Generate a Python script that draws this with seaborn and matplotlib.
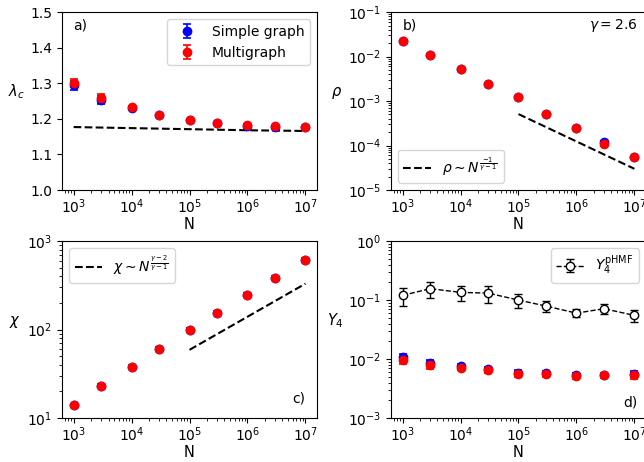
import numpy as np
import pandas as pd
import matplotlib
matplotlib.use("Agg")
import matplotlib.pyplot as plt
from matplotlib.ticker import LogLocator, NullFormatter
import seaborn as sns

# ---- data -------------------------------------------------------------
N = [1e3, 3e3, 1e4, 3e4, 1e5, 3e5, 1e6, 3e6, 1e7]

# a) critical point
lam_simple = [1.294, 1.254, 1.231, 1.210, 1.197, 1.188, 1.181, 1.178, 1.176]
lam_simple_err = [0.012, 0.011, 0.004, 0.003, 0.003, 0.003, 0.003, 0.003, 0.003]
lam_multi = [1.301, 1.258, 1.232, 1.211, 1.198, 1.189, 1.182, 1.179, 1.177]
lam_multi_err = [0.012, 0.011, 0.004, 0.003, 0.003, 0.003, 0.003, 0.003, 0.003]
lam_theory_N = [1e3, 1e4, 1e5, 1e6, 1e7]
lam_theory = [1.177, 1.174, 1.171, 1.168, 1.166]

# b) density
rho_simple = [0.0225, 0.0109, 0.00536, 0.00242, 0.00121, 0.000509, 0.000250, 0.000121, 5.46e-5]
rho_simple_err = [0.0012, 0.0005, 0.00028, 0.00012, 0.00008, 0.00003, 0.000014, 0.000008, 0.000003]
rho_multi = [0.0225, 0.0109, 0.00536, 0.00242, 0.00121, 0.000509, 0.000250, 0.000107, 5.46e-5]
rho_multi_err = [0.0012, 0.0005, 0.00028, 0.00012, 0.00008, 0.00003, 0.000014, 0.000008, 0.000003]
rho_fit_N = [1e5, 1e7]
rho_fit = [5.1e-4, 3.0e-5]

# c) susceptibility
chi_simple = [13.9, 23.2, 38.0, 60.7, 99.6, 155.0, 248.0, 385.0, 615.0]
chi_simple_err = [0.6, 0.9, 1.6, 2.2, 4.0, 6.0, 9.0, 14.0, 24.0]
chi_multi = [13.9, 23.2, 38.0, 60.7, 99.6, 155.0, 248.0, 385.0, 615.0]
chi_multi_err = [0.6, 0.9, 1.6, 2.2, 4.0, 6.0, 9.0, 14.0, 24.0]
chi_fit_N = [1e5, 1e7]
chi_fit = [59.0, 330.0]

# d) participation ratio
y4_simple = [0.0108, 0.0085, 0.0076, 0.00668, 0.0058, 0.0057, 0.0053, 0.0054, 0.0056]
y4_simple_err = [0.0015, 0.0010, 0.0008, 0.0006, 0.0006, 0.0006, 0.0005, 0.0005, 0.0007]
y4_multi = [0.0096, 0.0078, 0.00713, 0.00651, 0.00557, 0.00557, 0.00515, 0.00536, 0.00536]
y4_multi_err = [0.0012, 0.0009, 0.0007, 0.0006, 0.0006, 0.0006, 0.0005, 0.0005, 0.0007]
y4_phmf = [0.120, 0.156, 0.135, 0.131, 0.100, 0.079, 0.060, 0.0713, 0.055]
y4_phmf_err = [0.042, 0.049, 0.040, 0.041, 0.027, 0.016, 0.0093, 0.013, 0.012]

# ---- style ------------------------------------------------------------
sns.set_theme(style="ticks")
plt.rcParams.update({
    "font.family": ["DejaVu Sans"],
    "font.size": 10,
    "axes.labelsize": 10.5,
    "xtick.labelsize": 10,
    "ytick.labelsize": 10,
    "legend.fontsize": 10,
    "text.color": "black",
    "axes.labelcolor": "black",
    "axes.edgecolor": "black",
    "xtick.color": "black",
    "ytick.color": "black",
    "axes.linewidth": 0.8,
    "axes.labelpad": 4.0,
    "legend.frameon": True,
    "legend.framealpha": 0.8,
    "legend.edgecolor": "0.8",
    "legend.fancybox": True,
    "mathtext.fontset": "dejavusans",
})

fig = plt.figure(figsize=(6.44, 4.62), dpi=100)
W = 0.396
ax_a = fig.add_axes([0.0963, 0.5887, W, 0.385])
ax_b = fig.add_axes([0.6071, 0.5887, W, 0.385])
ax_c = fig.add_axes([0.0963, 0.0952, W, 0.383])
ax_d = fig.add_axes([0.6071, 0.0952, W, 0.383])

eb_kw = dict(fmt="o", ms=6, capsize=3, elinewidth=1.2, capthick=1.2)


def pair(ax, ys, es, ym, em, labels=True):
    ax.errorbar(N, ys, yerr=es, color="blue", ecolor="blue",
                label="Simple graph" if labels else None, **eb_kw)
    ax.errorbar(N, ym, yerr=em, color="red", ecolor="red",
                label="Multigraph" if labels else None, **eb_kw)


# a)
pair(ax_a, lam_simple, lam_simple_err, lam_multi, lam_multi_err)
sns.lineplot(x=lam_theory_N, y=lam_theory, ax=ax_a, color="black",
             linestyle="--", lw=1.5, legend=False)
ax_a.set_xscale("log")
ax_a.set_ylim(1.0, 1.5)
ax_a.set_yticks([1.0, 1.1, 1.2, 1.3, 1.4, 1.5])
ax_a.set_ylabel(r"$\lambda_c$", rotation=0, labelpad=10)
ax_a.text(0.045, 0.925, "a)", transform=ax_a.transAxes, ha="left", va="center")
ax_a.legend(loc="upper right")

# b)
pair(ax_b, rho_simple, rho_simple_err, rho_multi, rho_multi_err, labels=False)
sns.lineplot(x=rho_fit_N, y=rho_fit, ax=ax_b, color="black", linestyle="--",
             lw=1.5, label=r"$\rho \sim N^{\frac{-1}{\gamma-1}}$")
ax_b.set_xscale("log")
ax_b.set_yscale("log")
ax_b.set_ylim(1e-5, 1e-1)
ax_b.set_ylabel(r"$\rho$", rotation=0, labelpad=8)
ax_b.text(0.045, 0.925, "b)", transform=ax_b.transAxes, ha="left", va="center")
ax_b.text(0.965, 0.925, r"$\gamma = 2.6$", transform=ax_b.transAxes,
          ha="right", va="center")
ax_b.legend(loc="lower left")

# c)
pair(ax_c, chi_simple, chi_simple_err, chi_multi, chi_multi_err, labels=False)
sns.lineplot(x=chi_fit_N, y=chi_fit, ax=ax_c, color="black", linestyle="--",
             lw=1.5, label=r"$\chi \sim N^{\frac{\gamma-2}{\gamma-1}}$")
ax_c.set_xscale("log")
ax_c.set_yscale("log")
ax_c.set_ylim(10, 1000)
ax_c.set_ylabel(r"$\chi$", rotation=0, labelpad=9)
ax_c.text(0.953, 0.11, "c)", transform=ax_c.transAxes, ha="right", va="center")
ax_c.legend(loc="upper left")

# d)
pair(ax_d, y4_simple, y4_simple_err, y4_multi, y4_multi_err, labels=False)
ax_d.errorbar(N, y4_phmf, yerr=y4_phmf_err, fmt="o--", color="black",
              mfc="white", mec="black", ms=6, capsize=3, lw=1.0,
              elinewidth=1.0, capthick=1.0, label=r"$Y_4^{\rm pHMF}$")
ax_d.set_xscale("log")
ax_d.set_yscale("log")
ax_d.set_ylim(1e-3, 1.0)
ax_d.set_ylabel(r"$Y_4$", rotation=0, labelpad=9)
ax_d.text(0.968, 0.085, "d)", transform=ax_d.transAxes, ha="right", va="center")
ax_d.legend(loc="upper right")

for ax in (ax_a, ax_b, ax_c, ax_d):
    ax.set_xlim(10 ** 2.8, 10 ** 7.2)
    ax.set_xlabel("N", labelpad=1.0)
    ax.xaxis.set_minor_locator(LogLocator(base=10, subs=np.arange(2, 10), numticks=20))
    ax.xaxis.set_minor_formatter(NullFormatter())
    if ax is not ax_a:
        ax.yaxis.set_minor_locator(LogLocator(base=10, subs=np.arange(2, 10), numticks=20))
        ax.yaxis.set_minor_formatter(NullFormatter())
    ax.tick_params(which="both", direction="out", top=False, right=False,
                   bottom=True, left=True, color="black")
    ax.tick_params(which="major", length=3.5, width=0.8)
    ax.tick_params(which="minor", length=2.0, width=0.6)
    ax.tick_params(axis="x", which="major", pad=1.5)
    ax.tick_params(axis="y", which="major", pad=3.5)

fig.savefig("out.png", dpi=100)
